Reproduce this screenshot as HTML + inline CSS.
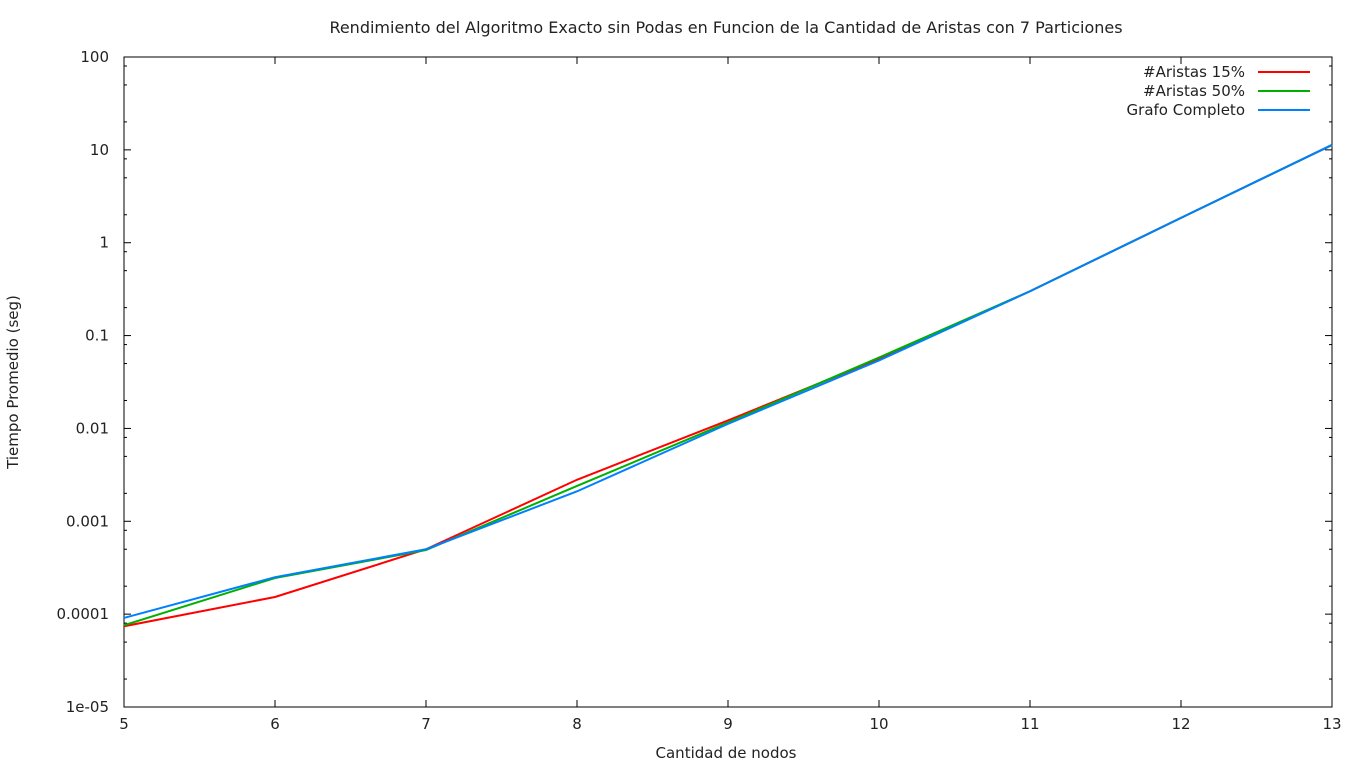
<!DOCTYPE html>
<html><head><meta charset="utf-8"><style>
body{margin:0;background:#fff;font-family:"Liberation Sans","DejaVu Sans",sans-serif;}
svg text{font-family:"DejaVu Sans","Liberation Sans",sans-serif;font-size:15px;fill:#222;}
</style></head><body>
<svg id="chart" width="1366" height="768">
<text x="726" y="33" text-anchor="middle" style="font-size:16px">Rendimiento del Algoritmo Exacto sin Podas en Funcion de la Cantidad de Aristas con 7 Particiones</text>
<text x="726" y="758" text-anchor="middle">Cantidad de nodos</text>
<text transform="translate(18,382) rotate(-90)" text-anchor="middle">Tiempo Promedio (seg)</text>
<g id="axes"></g><g id="series"></g><g id="legend"></g>
</svg>
<script>
const xCats=[5,6,7,8,9,10,11,12,13];
const yTickLabels=["1e-05","0.0001","0.001","0.01","0.1","1","10","100"];
const seriesNames=["#Aristas 15%","#Aristas 50%","Grafo Completo"];
const red=[7.4e-5,1.53e-4,5.0e-4,2.8e-3,0.0122,0.056,0.30,1.85,11.3];
const green=[7.6e-5,2.45e-4,4.9e-4,2.4e-3,0.0116,0.058,0.30,1.85,11.3];
const blue=[9.1e-5,2.5e-4,5.0e-4,2.1e-3,0.0112,0.054,0.30,1.85,11.3];
const colors=["#ff0000","#00b000","#0080ff"];
const L=124,R=1332,T=57,B=707;
const NS="http://www.w3.org/2000/svg";
function X(v){return L+(v-5)/(13-5)*(R-L);}
function Y(v){return T+(2-Math.log10(v))/7*(B-T);}
function mk(t,a,p){const e=document.createElementNS(NS,t);for(const k in a)e.setAttribute(k,a[k]);p.appendChild(e);return e;}
const ax=document.getElementById('axes');
const frame=mk('rect',{x:L,y:T,width:R-L,height:B-T,fill:'none',stroke:'#000','stroke-width':1},ax);


xCats.forEach(c=>{const x=X(c);
mk('line',{x1:x,y1:B,x2:x,y2:B-7,stroke:'#000'},ax);mk('line',{x1:x,y1:T,x2:x,y2:T+7,stroke:'#000'},ax);
const t=mk('text',{x:x,y:B+22,'text-anchor':'middle'},ax);t.textContent=c;

});
yTickLabels.forEach((lab,i)=>{const v=Math.pow(10,i-5),y=Y(v);
mk('line',{x1:L,y1:y,x2:L+7,y2:y,stroke:'#000'},ax);mk('line',{x1:R,y1:y,x2:R-7,y2:y,stroke:'#000'},ax);
if(i<7){[2,5,8].forEach(m=>{const ym=Y(v*m);mk('line',{x1:L,y1:ym,x2:L+3,y2:ym,stroke:'#000'},ax);mk('line',{x1:R,y1:ym,x2:R-3,y2:ym,stroke:'#000'},ax);});}
const t=mk('text',{x:L-15,y:y+5,'text-anchor':'end'},ax);t.textContent=lab;

});
const sg=document.getElementById('series'),lg=document.getElementById('legend');
[red,green,blue].forEach((d,i)=>{
const p=mk('polyline',{points:d.map((v,j)=>X(xCats[j])+','+Y(v)).join(' '),fill:'none',stroke:colors[i],'stroke-width':2},sg);


const ly=72+i*19;
const t=mk('text',{x:1245,y:ly+5,'text-anchor':'end'},lg);t.textContent=seriesNames[i];


mk('line',{x1:1258,y1:ly,x2:1310,y2:ly,stroke:colors[i],'stroke-width':2},lg);});
</script>
</body></html>
